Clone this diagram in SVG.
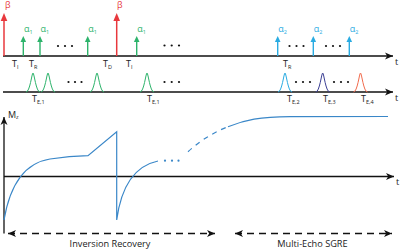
<svg xmlns="http://www.w3.org/2000/svg" xmlns:xlink="http://www.w3.org/1999/xlink" width="400" height="251" viewBox="0 0 400 251">
<style>
.ax{stroke:#111;stroke-width:1.3;fill:none}
.lbl{font-family:"Open Sans","Liberation Sans",sans-serif;font-size:9px;fill:#222}
.big{font-family:"Open Sans","Liberation Sans",sans-serif;font-size:9.2px;fill:#222}
.sub{font-size:5.5px}
.red{stroke:#e8383d;stroke-width:1.5}
.grn{stroke:#2db36b;stroke-width:1.4}
.blu{stroke:#29abe2;stroke-width:1.4}
.curve{stroke:#3a87c8;stroke-width:1.2;fill:none}
.pk{fill:none;stroke-width:1}
.dot{fill:#111}
</style>
<defs>
<marker id="axArr" markerUnits="userSpaceOnUse" markerWidth="8" markerHeight="7" refX="8" refY="3.5" orient="auto-start-reverse" overflow="visible">
<path d="M0,0 L8,3.5 L0,7 L2.2,3.5 z" fill="#111"/>
</marker>
<marker id="arrRed" markerUnits="userSpaceOnUse" markerWidth="8" markerHeight="7" refX="5" refY="3.3" orient="auto" overflow="visible">
<path d="M0,0 L8,3.3 L0,6.6 z" fill="#e8383d"/>
</marker>
<marker id="arrGrn" markerUnits="userSpaceOnUse" markerWidth="6" markerHeight="6" refX="3" refY="2.8" orient="auto" overflow="visible">
<path d="M0,0 L6,2.8 L0,5.6 z" fill="#2db36b"/>
</marker>
<marker id="arrBlu" markerUnits="userSpaceOnUse" markerWidth="6" markerHeight="6" refX="3" refY="2.8" orient="auto" overflow="visible">
<path d="M0,0 L6,2.8 L0,5.6 z" fill="#29abe2"/>
</marker>
<path id="peak" d="M-7,0 C-3,0 -1.2,-19 0,-19 C1.2,-19 3,0 7,0"/>
</defs>

<g id="connectors">
<line class="ax" x1="3" y1="56" x2="393" y2="56" marker-end="url(#axArr)"/>
<line class="ax" x1="3" y1="92" x2="393" y2="92" marker-end="url(#axArr)"/>
<line class="ax" x1="4" y1="176.5" x2="394" y2="176.5" marker-end="url(#axArr)"/>
<line class="ax" x1="4" y1="233.5" x2="4" y2="117" marker-end="url(#axArr)"/>
<line class="ax" x1="8" y1="233.5" x2="215" y2="233.5" stroke-dasharray="7 5" marker-start="url(#axArr)" marker-end="url(#axArr)"/>
<line class="ax" x1="235" y1="233.5" x2="392" y2="233.5" stroke-dasharray="7 5" marker-start="url(#axArr)" marker-end="url(#axArr)"/>
</g>

<g id="rf-pulses">
<line class="red" x1="4" y1="56" x2="4" y2="16" marker-end="url(#arrRed)"/>
<line class="red" x1="116.7" y1="56" x2="116.7" y2="16" marker-end="url(#arrRed)"/>
<line class="grn" x1="23.3" y1="56" x2="23.3" y2="39" marker-end="url(#arrGrn)"/>
<line class="grn" x1="40" y1="56" x2="40" y2="39" marker-end="url(#arrGrn)"/>
<line class="grn" x1="87.7" y1="56" x2="87.7" y2="39" marker-end="url(#arrGrn)"/>
<line class="grn" x1="136.7" y1="56" x2="136.7" y2="39" marker-end="url(#arrGrn)"/>
<line class="blu" x1="277.7" y1="56" x2="277.7" y2="39" marker-end="url(#arrBlu)"/>
<line class="blu" x1="313.3" y1="56" x2="313.3" y2="39" marker-end="url(#arrBlu)"/>
<line class="blu" x1="349.3" y1="56" x2="349.3" y2="39" marker-end="url(#arrBlu)"/>
</g>

<g id="rf-labels">
<text class="lbl" x="5" y="8" style="fill:#e8383d;font-size:8.8px">β</text>
<text class="lbl" x="117" y="8" style="fill:#e8383d;font-size:8.8px">β</text>
<text class="lbl" x="24" y="32" style="fill:#2db36b">α<tspan class="sub" dy="1.5">1</tspan></text>
<text class="lbl" x="40.5" y="32" style="fill:#2db36b">α<tspan class="sub" dy="1.5">1</tspan></text>
<text class="lbl" x="88.2" y="32" style="fill:#2db36b">α<tspan class="sub" dy="1.5">1</tspan></text>
<text class="lbl" x="137.2" y="32" style="fill:#2db36b">α<tspan class="sub" dy="1.5">1</tspan></text>
<text class="lbl" x="278.2" y="32" style="fill:#29abe2">α<tspan class="sub" dy="1.5">2</tspan></text>
<text class="lbl" x="313.8" y="32" style="fill:#29abe2">α<tspan class="sub" dy="1.5">2</tspan></text>
<text class="lbl" x="349.8" y="32" style="fill:#29abe2">α<tspan class="sub" dy="1.5">2</tspan></text>
</g>

<g id="dots">
<circle class="dot" cx="58" cy="46" r="1.1"/><circle class="dot" cx="65" cy="46" r="1.1"/><circle class="dot" cx="72" cy="46" r="1.1"/>
<circle class="dot" cx="164.5" cy="45.5" r="1.1"/><circle class="dot" cx="171.7" cy="45.5" r="1.1"/><circle class="dot" cx="179" cy="45.5" r="1.1"/>
<circle class="dot" cx="289.5" cy="46" r="1.1"/><circle class="dot" cx="296.5" cy="46" r="1.1"/><circle class="dot" cx="303.5" cy="46" r="1.1"/>
<circle class="dot" cx="326" cy="46" r="1.1"/><circle class="dot" cx="333" cy="46" r="1.1"/><circle class="dot" cx="340" cy="46" r="1.1"/>
<circle class="dot" cx="68.5" cy="82" r="1.1"/><circle class="dot" cx="75" cy="82" r="1.1"/><circle class="dot" cx="81.5" cy="82" r="1.1"/>
<circle class="dot" cx="164.5" cy="82" r="1.1"/><circle class="dot" cx="171.7" cy="82" r="1.1"/><circle class="dot" cx="179" cy="82" r="1.1"/>
<circle class="dot" cx="296" cy="82" r="1.1"/><circle class="dot" cx="303" cy="82" r="1.1"/><circle class="dot" cx="310" cy="82" r="1.1"/>
<circle class="dot" cx="334" cy="82" r="1.1"/><circle class="dot" cx="341" cy="82" r="1.1"/><circle class="dot" cx="348" cy="82" r="1.1"/>
<circle cx="165" cy="160.7" r="1.1" fill="#3a87c8"/><circle cx="172" cy="160.7" r="1.1" fill="#3a87c8"/><circle cx="178.5" cy="160.7" r="1.1" fill="#3a87c8"/>
</g>

<g id="echoes">
<use xlink:href="#peak" x="33" y="92" class="pk" stroke="#2db36b"/>
<use xlink:href="#peak" x="48" y="92" class="pk" stroke="#2db36b"/>
<use xlink:href="#peak" x="97" y="92" class="pk" stroke="#2db36b"/>
<use xlink:href="#peak" x="147" y="92" class="pk" stroke="#2db36b"/>
<use xlink:href="#peak" x="285" y="92" class="pk" stroke="#29abe2"/>
<use xlink:href="#peak" x="322.7" y="92" class="pk" stroke="#3b3f94"/>
<use xlink:href="#peak" x="360.5" y="92" class="pk" stroke="#f26b4d"/>
</g>

<g id="timing-labels">
<text class="lbl" x="12" y="66.5">T<tspan class="sub" dy="2">I</tspan></text>
<text class="lbl" x="29" y="66.5">T<tspan class="sub" dy="2">R</tspan></text>
<text class="lbl" x="103" y="66.5">T<tspan class="sub" dy="2">D</tspan></text>
<text class="lbl" x="126" y="66.5">T<tspan class="sub" dy="2">I</tspan></text>
<text class="lbl" x="283" y="66.5">T<tspan class="sub" dy="2">R</tspan></text>
<text class="lbl" x="32" y="101.5">T<tspan class="sub" dy="2">E,1</tspan></text>
<text class="lbl" x="147" y="101.5">T<tspan class="sub" dy="2">E,1</tspan></text>
<text class="lbl" x="287" y="101.5">T<tspan class="sub" dy="2">E,2</tspan></text>
<text class="lbl" x="323" y="101.5">T<tspan class="sub" dy="2">E,3</tspan></text>
<text class="lbl" x="361" y="101.5">T<tspan class="sub" dy="2">E,4</tspan></text>
<text class="lbl" x="395" y="64.5">t</text>
<text class="lbl" x="395" y="101">t</text>
<text class="lbl" x="396" y="184.5">t</text>
<text class="lbl" x="8" y="117.5">M<tspan class="sub" dy="1.5">z</tspan></text>
</g>

<g id="magnetization">
<path class="curve" d="M4,220 C10,185 24,163 50,159 C66,156.6 80,155.8 88,155.6 L116.7,131.7 L116.7,220 C121,188 134,166 158,161"/>
<path class="curve" d="M188,151.7 C200,141 212,133 228,126.7" stroke-dasharray="5 5"/>
<path class="curve" d="M228,126.7 C245,120 260,116.8 290,116.6 L388,116.5"/>
</g>

<g id="phase-labels">
<text class="big" x="110" y="247" text-anchor="middle">Inversion Recovery</text>
<text class="big" x="312.5" y="247" text-anchor="middle">Multi-Echo SGRE</text>
</g>
</svg>
